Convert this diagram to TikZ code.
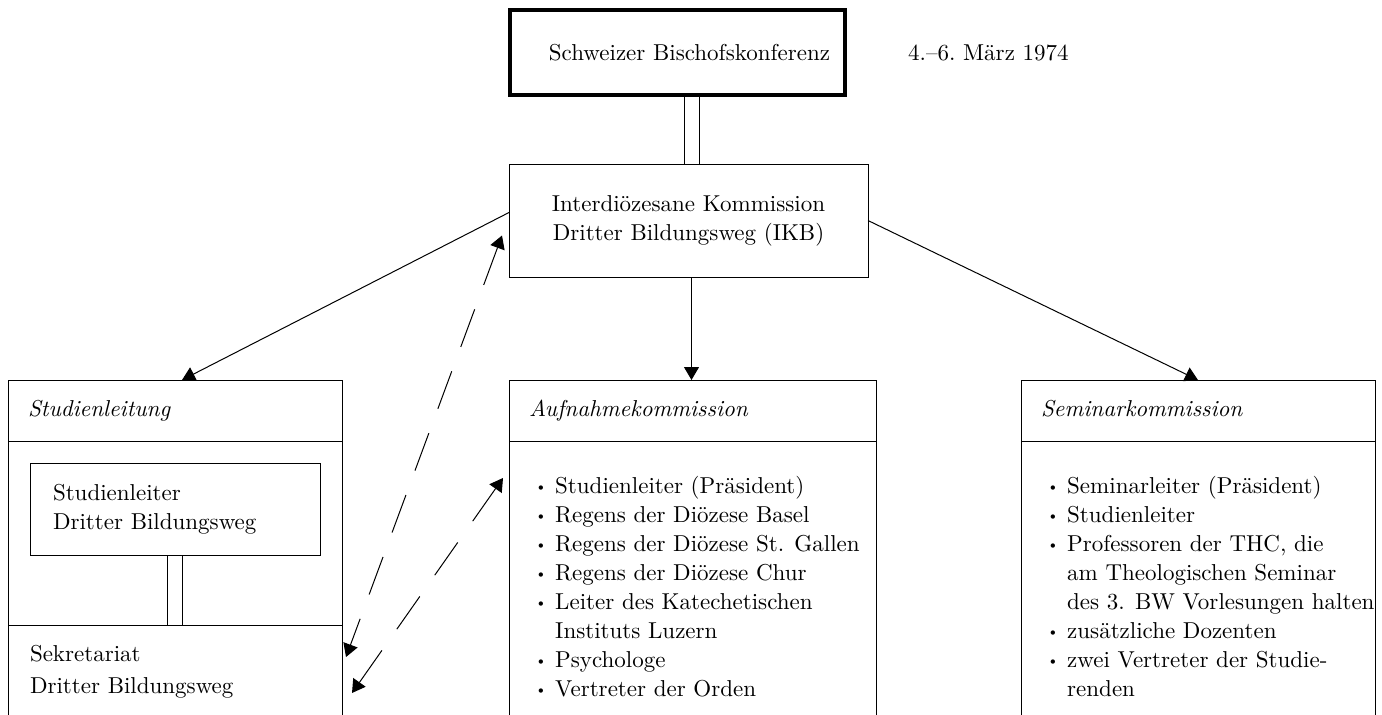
\documentclass[tikz,border=0pt]{standalone}
\usepackage{fontspec}
\setmainfont{lmroman10-regular}[Extension=.otf,ItalicFont=lmroman10-italic,BoldFont=lmroman10-bold]
\usepackage{tikz}
\usetikzlibrary{calc}
\usetikzlibrary{positioning}
\usetikzlibrary{arrows.meta}
\newcommand{\pkt}{\makebox[16pt][l]{\hspace*{-4pt}\raisebox{1.5pt}{\fontsize{15}{15}\selectfont\textbullet}}}
\newcommand{\einr}{\hspace*{16pt}}

\begin{document}
\begin{tikzpicture}[x=1pt,y=-1pt,>={Triangle[length=13pt,width=15pt]},
		font=\fontsize{23}{29}\selectfont,
		box/.style={rectangle,draw=black,line width=1pt,inner sep=0pt,outer sep=0pt},
		kopf/.style={box,text width=#1,inner xsep=20pt,minimum height=61pt,align=left,
			font=\fontsize{23}{29}\selectfont\itshape,text height=16pt,text depth=5pt},
		rumpf/.style={box,minimum width=#1,minimum height=277pt},
		liste/.style={inner sep=0pt,align=left},
		doppel/.style={draw,double,double distance=14pt,line width=1pt},
		strich/.style={<->,dash pattern=on 40pt off 26pt,line width=1pt}]
		\useasboundingbox (0,0) rectangle (1382,715);
		\clip (0,0) rectangle (1382,715);

		\node[box,line width=3.5pt,minimum width=335pt,minimum height=85pt] (sbk) at (677.5,52.5)
			{\hspace*{24pt}Schweizer Bischofskonferenz};
		\node[anchor=base west,inner sep=0pt] (datum) at ([xshift=63pt]sbk.base east) {4.--6.\ März 1974};
		\node[box,minimum width=359pt,minimum height=113pt,align=center] (ikb) at (688.5,220.5)
			{Interdiözesane Kommission\\Dritter Bildungsweg (IKB)};

		\node[kopf=294pt] (kopf1) at (175,410.5) {Studienleitung};
		\node[kopf=327pt] (kopf2) at (692.5,410.5) {Aufnahmekommission};
		\node[kopf=314pt] (kopf3) at (1198,410.5) {Seminarkommission};

		\node[rumpf=334pt] (rumpf1) [below=0pt of kopf1] {};
		\node[rumpf=367pt] (rumpf2) [below=0pt of kopf2] {};
		\node[rumpf=354pt] (rumpf3) [below=0pt of kopf3] {};

		\node[box,minimum width=290pt,minimum height=92pt,text width=244pt,inner xsep=23pt,align=left]
			(sl) [below=22pt of rumpf1.north] {Studienleiter\\Dritter Bildungsweg};
		\node[box,minimum width=334pt,minimum height=93pt,text width=290pt,inner xsep=22pt,align=left,
			font=\fontsize{23}{32}\selectfont]
			(sek) [below=70pt of sl] {Sekretariat\\Dritter Bildungsweg};

		\node[liste,anchor=north west] (liste2) at ([shift={(30,35)}]rumpf2.north west)
			{\pkt Studienleiter (Präsident)\\
			 \pkt Regens der Diözese Basel\\
			 \pkt Regens der Diözese St. Gallen\\
			 \pkt Regens der Diözese Chur\\
			 \pkt Leiter des Katechetischen\\
			 \einr Instituts Luzern\\
			 \pkt Psychologe\\
			 \pkt Vertreter der Orden};
		\node[liste,anchor=north west] (liste3) at ([shift={(30,35)}]rumpf3.north west)
			{\pkt Seminarleiter (Präsident)\\
			 \pkt Studienleiter\\
			 \pkt Professoren der THC, die\\
			 \einr am Theologischen Seminar\\
			 \einr des 3. BW Vorlesungen halten\\
			 \pkt zusätzliche Dozenten\\
			 \pkt zwei Vertreter der Studie-\\
			 \einr renden};

		\path[doppel,shorten <=1.75pt,shorten >=0.5pt]
			([xshift=14pt]sbk.south) -- ([xshift=14pt]sbk.south |- ikb.north);
		\path[doppel,shorten <=0.5pt,shorten >=0.5pt] (sl) -- (sek);

		\path[->,line width=1pt]
		([yshift=8pt]ikb.west) edge ([xshift=7pt]kopf1.north)
		([xshift=3pt]ikb.south) edge ([xshift=3pt]ikb.south |- kopf2.north)
		(ikb.east) edge (kopf3.north);

		\draw[strich] ([shift={(-7,15)}]ikb.west) -- ([shift={(4,-14.5)}]sek.east);
		\draw[strich] ([shift={(-6,37)}]rumpf2.north west) -- ([shift={(10,21.5)}]sek.east);
\end{tikzpicture}
\end{document}
